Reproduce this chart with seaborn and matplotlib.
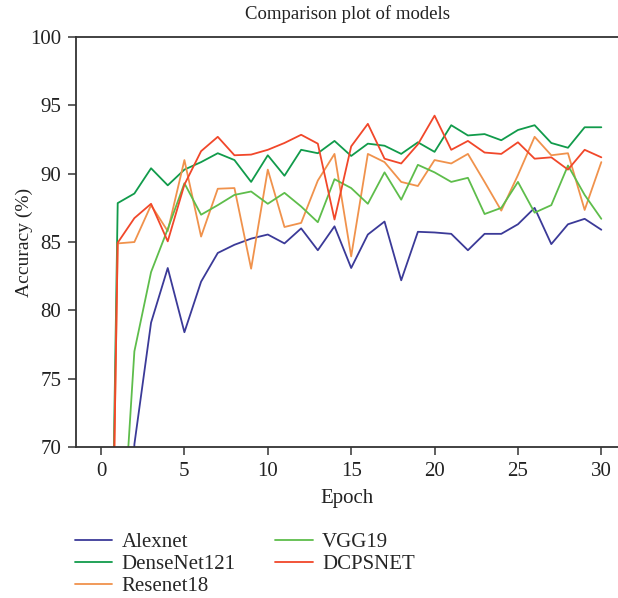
import pandas as pd
import numpy as np
import seaborn as sns
import matplotlib.pyplot as plt

# accuracy per epoch (epoch 0..30)
epochs = list(range(0, 31))

alexnet = [10, 10, 70.2, 79.1, 83.1, 78.4, 82.1, 84.2, 84.8, 85.25, 85.55,
           84.9, 86.0, 84.4, 86.15, 83.1, 85.55, 86.5, 82.2, 85.75, 85.7,
           85.6, 84.4, 85.6, 85.6, 86.3, 87.5, 84.85, 86.3, 86.7, 85.9]
densenet = [10, 87.85, 88.55, 90.4, 89.15, 90.3, 90.85, 91.5, 91.0, 89.4, 91.35,
            89.85, 91.75, 91.5, 92.4, 91.3, 92.2, 92.05, 91.45, 92.3, 91.6,
            93.55, 92.8, 92.9, 92.45, 93.2, 93.55, 92.25, 91.9, 93.4, 93.4]
resenet = [10, 84.9, 85.0, 87.7, 85.8, 91.0, 85.4, 88.9, 88.95, 83.05, 90.3,
           86.1, 86.4, 89.5, 91.45, 83.95, 91.45, 90.85, 89.4, 89.1, 91.0,
           90.75, 91.45, 89.4, 87.3, 89.9, 92.7, 91.35, 91.5, 87.35, 90.85]
vgg19 = [10, 57.7, 77.0, 82.8, 85.95, 89.3, 87.0, 87.7, 88.45, 88.7, 87.8,
         88.6, 87.6, 86.45, 89.6, 88.95, 87.8, 90.1, 88.1, 90.65, 90.1,
         89.4, 89.7, 87.05, 87.5, 89.4, 87.15, 87.7, 90.6, 88.45, 86.7]
dcpsnet = [10, 84.95, 86.75, 87.8, 85.05, 89.2, 91.65, 92.7, 91.35, 91.4, 91.75,
           92.25, 92.85, 92.2, 86.65, 92.0, 93.65, 91.1, 90.75, 92.15, 94.25,
           91.75, 92.4, 91.55, 91.45, 92.3, 91.1, 91.2, 90.3, 91.75, 91.2]

models = ['Alexnet', 'DenseNet121', 'Resenet18', 'VGG19', 'DCPSNET']
colors = ['#3b3a98', '#119b4b', '#f0924c', '#5ebd4b', '#f1472a']

df = pd.DataFrame({'Epoch': epochs * 5,
                   'Accuracy': alexnet + densenet + resenet + vgg19 + dcpsnet,
                   'Model': sum([[m] * len(epochs) for m in models], [])})

sns.set_style('ticks')
plt.rcParams['font.family'] = ['Liberation Serif', 'DejaVu Serif']

fig = plt.figure(figsize=(6.18, 5.98), dpi=100)
ax = fig.add_axes([0.123, 0.2525, 0.877, 0.6855])

sns.lineplot(data=df, x='Epoch', y='Accuracy', hue='Model', hue_order=models,
             palette=colors, linewidth=1.3, ax=ax)

ax.set_xlim(-1.5, 31)
ax.set_ylim(70, 100)
ax.set_xticks([0, 5, 10, 15, 20, 25, 30])
ax.set_yticks([70, 75, 80, 85, 90, 95, 100])
ax.tick_params(labelsize=15, length=5.5, width=1.2, pad=5, color='#444444', colors='#222222')
for s in ['left', 'bottom', 'top']:
    ax.spines[s].set_color('#333333')
    ax.spines[s].set_linewidth(1.3)
ax.spines['right'].set_visible(False)

ax.set_title('Comparison plot of models', fontsize=13.5, color='#222222', pad=13)
ax.set_xlabel('Epoch', fontsize=15, color='#222222', labelpad=6)
ax.set_ylabel('Accuracy (%)', fontsize=14, color='#222222')
ax.yaxis.set_label_coords(-0.079, 0.5)

ax.legend_.remove()
handles, labels = ax.get_legend_handles_labels()
fig.legend(handles, labels, loc='upper left', bbox_to_anchor=(0.121, 0.11),
           ncol=2, frameon=False, fontsize=15, handlelength=1.8,
           handletextpad=0.45, columnspacing=1.9, labelspacing=0.12,
           borderaxespad=0, borderpad=0)

fig.savefig('out.png', dpi=100)
